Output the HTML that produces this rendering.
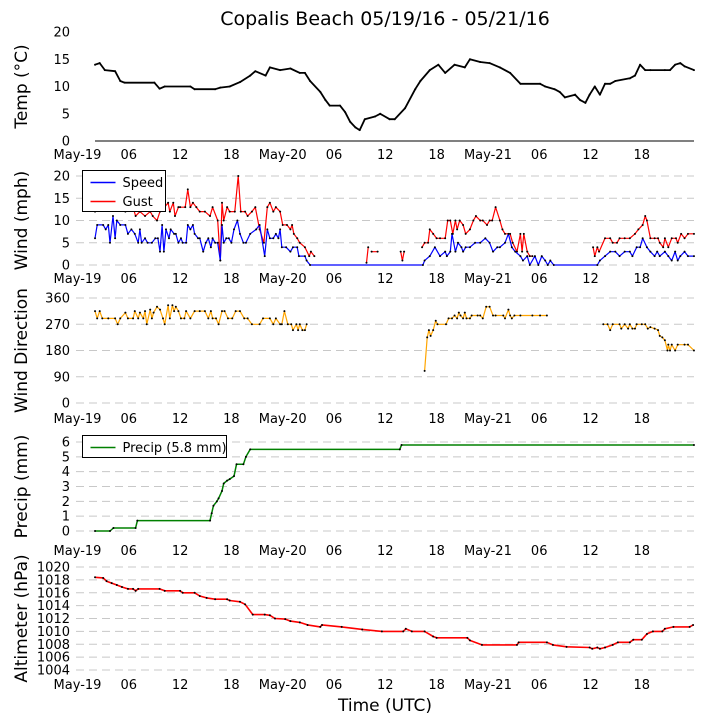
<!DOCTYPE html>
<html><head><meta charset="utf-8"><style>
body{margin:0;background:#fff;}
svg{display:block;font-family:"DejaVu Sans","Liberation Sans",sans-serif;}
</style></head><body>
<svg id="chart" width="705" height="725" viewBox="0 0 705 725">
<text x="385" y="25" text-anchor="middle" font-size="19">Copalis Beach 05/19/16 - 05/21/16</text>
<text x="385" y="711" text-anchor="middle" font-size="17">Time (UTC)</text>
</svg>
<script>
const xTickLabels=["May-19","06","12","18","May-20","06","12","18","May-21","06","12","18"];
const xTickHours=[0,6,12,18,24,30,36,42,48,54,60,66];
const tempT=[2.05,2.6,3.2,4.4,5.0,5.5,9.0,9.6,10.2,13.2,13.7,16.1,16.7,17.8,19.0,20.2,20.8,22.0,22.5,23.7,24.9,26.0,26.6,27.2,28.4,29.0,29.5,30.7,31.3,31.9,32.5,33.0,33.6,34.8,35.4,36.5,37.1,38.3,39.5,40.1,41.2,42.2,43.0,44.1,45.3,45.9,47.1,48.2,49.4,50.6,51.8,54.1,54.7,55.8,56.4,57.0,58.2,58.8,59.4,59.9,60.5,61.1,61.7,62.3,62.9,64.6,65.2,65.8,66.4,67.0,68.7,69.3,69.9,70.5,71.0,72.1];
const tempV=[14,14.3,13,12.8,11,10.7,10.7,9.6,10,10,9.5,9.5,9.8,10,10.8,12,12.8,12,13.5,13,13.3,12.5,12.5,11,9,7.5,6.5,6.5,5.3,3.5,2.5,2,4,4.5,5,4,4,6,9.5,11,13,14,12.5,14,13.5,15,14.5,14.3,13.5,12.5,10.5,10.5,10,9.5,9,8,8.5,7.5,7,8.5,10,8.5,10.5,10.5,11,11.5,12,14,13,13,13,13,14,14.3,13.7,13];
const speedT=[2.05,2.3,3.0,3.3,3.6,3.8,4.15,4.4,4.6,5.0,5.6,5.9,6.3,6.7,7.1,7.3,7.5,7.9,8.2,8.7,9.1,9.4,9.65,9.9,10.1,10.35,10.7,10.9,11.3,11.5,11.8,12.1,12.3,12.7,12.9,13.2,13.5,13.7,14.1,14.3,14.7,15.0,15.3,15.6,15.8,16.1,16.4,16.7,16.9,17.1,17.4,17.7,18.0,18.3,18.7,19.0,19.4,19.7,20.2,20.9,21.3,21.9,22.2,22.5,22.9,23.2,23.5,23.7,23.9,24.4,24.9,25.2,25.7,25.9,26.6,26.8,27.2,40.4,40.6,41.2,41.8,42.4,43.0,43.2,43.6,43.8,44.2,44.5,44.9,45.1,45.4,45.9,46.5,47.1,47.7,48.2,48.6,49.1,49.4,50.0,50.4,50.8,51.2,51.8,52.1,52.6,52.9,53.5,53.9,54.3,54.7,55.0,55.3,55.7,60.8,61.1,61.7,62.3,62.9,63.4,64.0,64.6,64.9,65.4,65.8,66.1,66.6,67.0,67.5,67.8,68.1,68.7,69.1,69.5,69.9,70.2,70.5,71.0,71.4,72.1];
const speedV=[6,9,9,8,9,5,11,6,10,9,9,7,8,7,5,8,5,6,5,5,6,6,3,9,3,8,6,8,7,7,5,6,5,5,9,8,9,7,6,6,3,5,6,4,6,5,5,1,9,5,6,6,5,8,10,7,5,5,7,8,9,2,8,6,6,7,6,8,4,4,3,4,4,2,2,1,0,0,1,2,4,2,3,2,3,7,3,5,4,3,4,4,5,5,6,5,3,4,4,5,7,4,3,2,1,2,0,2,0,2,1,0,1,0,0,1,2,3,3,2,3,3,2,4,4,6,4,3,2,3,2,3,2,1,3,1,2,3,2,2];
const gustT=[2.05,3.8,5.6,6.5,6.8,7.3,7.9,8.5,8.8,9.3,9.65,10.2,10.6,10.8,11.2,11.4,11.8,12.0,12.6,12.9,13.2,13.5,13.9,14.3,14.9,15.5,15.8,16.4,16.7,16.9,17.1,17.5,17.8,18.4,18.8,19.1,19.6,19.9,20.4,20.8,21.3,21.8,22.2,22.5,22.9,23.2,23.7,24.0,24.5,24.9,25.1,25.3,25.7,26.0,26.6,27.1,27.3,27.7,30,33.8,34.0,34.1,34.4,35.1,36,37.8,38.0,38.2,39,40.3,40.6,41.0,41.2,41.6,42.0,42.4,43.0,43.3,43.6,43.9,44.2,44.4,44.7,45.1,45.4,45.9,46.3,46.6,47.1,47.4,47.9,48.2,48.5,48.9,49.4,49.7,50.0,50.6,50.9,51.4,51.8,52.0,52.2,52.6,52.9,53.2,56,60.3,60.5,60.8,61.0,61.7,62.3,62.6,63.1,63.4,64.0,64.6,65.2,65.6,66.1,66.4,66.6,67.0,67.5,67.9,68.1,68.5,68.7,69.1,69.5,70.0,70.2,70.6,71.0,71.4,72.1];
const gustV=[12,13,12,13,11,12,11,12,11,10,12,13,14,12,14,11,13,13,13,17,13,14,13,12,12,11,13,10,1,14,10,13,12,12,20,12,12,11,12,13,8,5,13,14,12,13,12,9,9,8,9,7,6,5,4,2,3,2,null,0.5,4,null,3,3,null,3,1,3,null,4,5,5,8,7,6,6,6,10,10,7,10,8,10,9,7,8,10,11,10,10,9,10,10,13,10,8,7,7,5,3,7,3,7,3,2,2,null,4,2,4,3,6,6,5,5,6,6,6,7,8,9,11,10,6,6,6,5,4,6,4,6,6,5,7,6,7,7];
const dirT=[2.05,2.3,2.6,2.9,3.6,4.4,4.7,5.0,5.6,5.9,6.5,6.7,7.1,7.3,7.7,7.9,8.1,8.5,8.7,8.9,9.3,9.65,10.0,10.2,10.6,10.8,11.1,11.3,11.5,11.8,12.1,12.5,12.7,13.2,13.7,14.3,14.9,15.3,15.6,15.8,16.2,16.5,16.9,17.2,17.6,18.1,18.5,19.0,19.5,19.9,20.4,21.3,21.7,22.5,22.9,23.2,23.7,23.9,24.2,24.6,25.0,25.2,25.6,25.8,26.0,26.3,26.6,26.8,33,40.6,40.9,41.1,41.3,41.6,41.9,42.1,43.1,43.4,43.8,44.1,44.4,44.6,44.8,45.1,45.3,45.5,45.9,46.1,46.8,47.1,47.4,47.8,48.2,48.6,48.9,49.8,50.0,50.4,50.6,50.8,51.1,51.8,53.2,54.1,54.9,58,61.5,62.0,62.3,62.6,63.4,63.6,64.0,64.4,64.6,64.9,65.2,65.4,66.0,66.4,66.7,67.0,67.5,67.9,68.1,68.4,68.7,69.0,69.1,69.3,69.5,69.9,70.2,71.0,71.4,72.1];
const dirV=[315,290,315,290,290,290,270,290,310,290,290,315,290,310,290,315,270,320,290,310,330,320,290,270,335,290,335,315,330,315,290,290,315,290,315,315,315,290,315,290,290,270,315,315,290,290,315,315,290,290,270,270,290,290,270,290,270,270,315,270,270,250,270,250,270,250,250,270,null,110,225,250,230,250,282,270,270,290,290,300,290,310,300,290,310,290,290,300,300,300,290,330,330,300,300,300,290,320,300,290,300,300,300,300,300,null,270,270,250,270,270,255,270,255,270,255,255,270,270,270,255,260,255,250,230,225,215,180,200,180,200,180,200,200,200,180];
const precipT=[2.05,3.8,4.2,6.8,7.0,15.5,15.7,15.9,16.3,16.5,16.9,17.1,17.5,17.8,18.3,18.6,19.4,19.7,20.2,37.7,37.9,72.1];
const precipV=[0,0,0.2,0.2,0.7,0.7,1.2,1.7,2.0,2.2,2.7,3.2,3.4,3.5,3.7,4.5,4.5,5.0,5.5,5.5,5.8,5.8];
const altT=[2.05,3.0,3.4,4.0,4.6,5.2,5.9,6.5,6.8,7.1,9.6,10.2,12.0,12.3,13.7,14.3,15.1,16.1,17.5,17.8,19.0,19.6,20.5,21.9,22.5,23.1,24.3,24.9,26.0,26.9,28.4,28.6,30.9,33.3,35.6,38.1,38.4,39.1,40.6,41.6,42.0,45.6,45.9,47.3,51.4,51.6,54.9,55.6,57.2,59.9,60.2,60.8,61.1,61.7,62.6,63.2,64.6,65.0,66.0,66.6,67.3,68.4,68.7,69.7,71.6,72.0];
const altV=[1018.4,1018.3,1017.8,1017.5,1017.2,1016.9,1016.6,1016.6,1016.3,1016.6,1016.6,1016.3,1016.3,1016,1016,1015.5,1015.2,1015,1015,1014.8,1014.6,1014.2,1012.6,1012.6,1012.5,1012,1011.9,1011.6,1011.4,1011.0,1010.7,1011.0,1010.7,1010.3,1010.0,1010.0,1010.4,1010.0,1010.0,1009.2,1009.0,1009.0,1008.6,1007.9,1007.9,1008.3,1008.3,1007.9,1007.6,1007.5,1007.3,1007.5,1007.3,1007.5,1007.9,1008.3,1008.3,1008.7,1008.7,1009.6,1010.0,1010.0,1010.4,1010.7,1010.7,1011.0];
const tempTicks=[0,5,10,15,20];
const windTicks=[0,5,10,15,20];
const dirTicks=[0,90,180,270,360];
const precipTicks=[0,1,2,3,4,5,6];
const altTicks=[1004,1006,1008,1010,1012,1014,1016,1018,1020];

const svg=document.getElementById('chart');
const NS='http://www.w3.org/2000/svg';
const X0=77.5,XS=8.55;
function xs(h){return X0+h*XS;}
function mk(tag,attrs,parent){const e=document.createElementNS(NS,tag);for(const k in attrs)e.setAttribute(k,attrs[k]);(parent||svg).appendChild(e);return e;}
function makePanel(name,top,bottom,lo,hi,ticks,label,grid,tickRowY){
  const g=mk('g',{});
  
  
  const ys=v=>bottom-(v-lo)/(hi-lo)*(bottom-top);
  ticks.forEach(t=>{
    if(grid){const l=mk('line',{x1:76,x2:694,y1:ys(t),y2:ys(t),stroke:'#c8c8c8','stroke-width':1,'stroke-dasharray':'8,5'},g);
      
      }
    const tx=mk('text',{x:70,y:ys(t)+4.5,'text-anchor':'end','font-size':13},g);
    tx.textContent=t;
    
    
  });
  const cy=(top+bottom)/2;
  const yl=mk('text',{x:0,y:0,'text-anchor':'middle','font-size':17,transform:`translate(27,${cy}) rotate(-90)`},g);
  yl.textContent=label;
  
  
  if(tickRowY){xTickHours.forEach((h,i)=>{
    const tx=mk('text',{x:xs(h),y:tickRowY,'text-anchor':'middle','font-size':13},g);
    tx.textContent=xTickLabels[i];
    
    
  });}
  return {g,ys};
}
function series(p,T,V,color,name,w,dots){
  let d='',pen=false;
  T.forEach((t,i)=>{const v=V[i];if(v===null){pen=false;return;}d+=(pen?'L':'M')+xs(t).toFixed(1)+','+p.ys(v).toFixed(1);pen=true;});
  const path=mk('path',{d:d,fill:'none',stroke:color,'stroke-width':w,'stroke-linejoin':'round'},p.g);
  
  
  if(dots){T.forEach((t,i)=>{const v=V[i];if(v===null)return;
    const c=mk('circle',{cx:xs(t),cy:p.ys(v),r:1,fill:'#000'},p.g);
    
    });}
}
const pT=makePanel('temp',32,141,0,20,tempTicks,'Temp (\u00B0C)',false,159);
const base=mk('line',{x1:95,x2:694,y1:141,y2:141,stroke:'#000','stroke-width':1},pT.g);


series(pT,tempT,tempV,'#000','temp-line',1.8,true);
const pW=makePanel('wind',176,265,0,20,windTicks,'Wind (mph)',true,283);
series(pW,gustT,gustV,'#ff0000','gust-line',1.2,true);
series(pW,speedT,speedV,'#0000ff','speed-line',1.2,true);
const pD=makePanel('direction',298,403,0,360,dirTicks,'Wind Direction',true,423);
series(pD,dirT,dirV,'#ffa500','direction-line',1.2,true);
const pP=makePanel('precip',442,531,0,6,precipTicks,'Precip (mm)',true,555);
series(pP,precipT,precipV,'#008000','precip-line',1.5,true);
const pA=makePanel('altimeter',567,670,1004,1020,altTicks,'Altimeter (hPa)',true,689);
series(pA,altT,altV,'#ff0000','altimeter-line',1.6,true);
function legend(x,y,w,h,items){
  const g=mk('g',{});
  
  
  const r=mk('rect',{x:x,y:y,width:w,height:h,fill:'#fff',stroke:'#000','stroke-width':1},g);
  
  
  items.forEach((it,i)=>{const yy=y+12+i*19;
    const l=mk('line',{x1:x+8,x2:x+33,y1:yy,y2:yy,stroke:it[1],'stroke-width':1.5},g);
    
    
    const t=mk('text',{x:x+40,y:yy+4.5,'font-size':13},g);t.textContent=it[0];
    
    });
}
legend(82.5,170.5,83,41,[['Speed','#0000ff'],['Gust','#ff0000']]);
legend(82.5,435.5,144,22,[['Precip (5.8 mm)','#008000']]);
</script>
</body></html>
